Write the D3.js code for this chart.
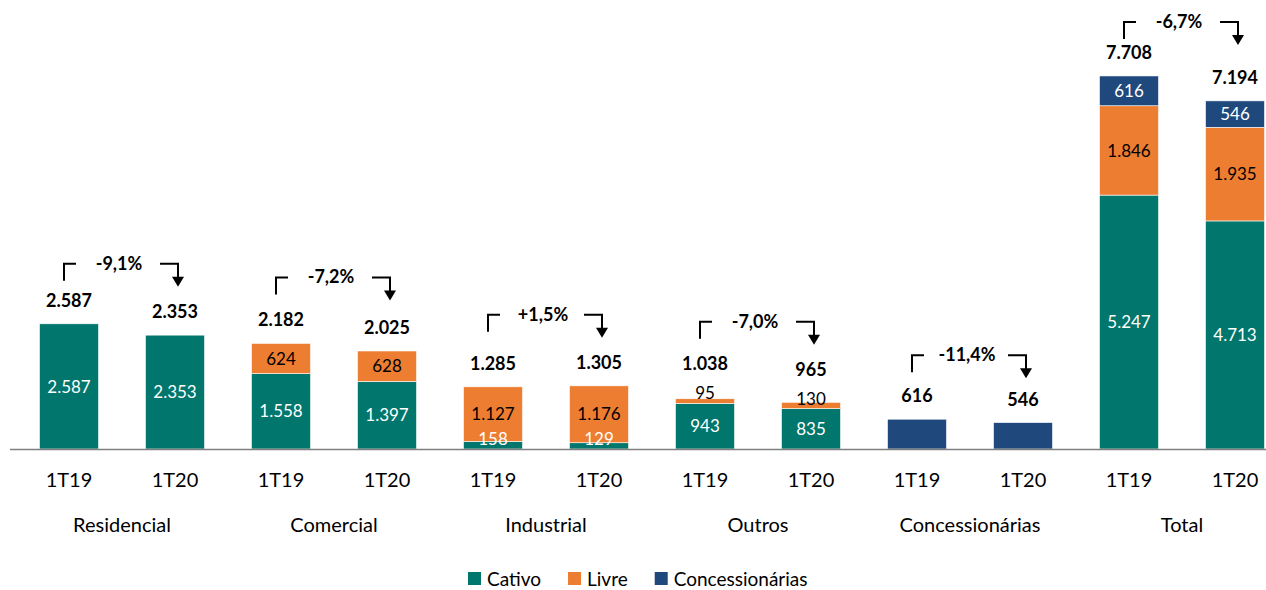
<!DOCTYPE html>
<html>
<head>
<meta charset="utf-8">
<script src="https://cdn.jsdelivr.net/npm/d3@7"></script>
<style>
  body { margin: 0; background: #fff; }
  svg { font-family: Lato, "Noto Sans", sans-serif; }
</style>
</head>
<body>
<svg width="1266" height="590"></svg>
<script>
// data
const categories = ["Residencial", "Comercial", "Industrial", "Outros", "Concessionárias", "Total"];
const periods = ["1T19", "1T20"];
const seriesNames = ["Cativo", "Livre", "Concessionárias"];
const cativo  = [2587, 2353, 1558, 1397, 158, 129, 943, 835, 0, 0, 5247, 4713];
const livre   = [0, 0, 624, 628, 1127, 1176, 95, 130, 0, 0, 1846, 1935];
const concess = [0, 0, 0, 0, 0, 0, 0, 0, 616, 546, 616, 546];
const totals  = [2587, 2353, 2182, 2025, 1285, 1305, 1038, 965, 616, 546, 7708, 7194];
const changes = ["-9,1%", "-7,2%", "+1,5%", "-7,0%", "-11,4%", "-6,7%"];

// layout
const colors = ["#00766c", "#ed7d31", "#1f497d"];
const textColors = ["#fff", "#000", "#fff"];
const bracketRise = [60, 66, 71, 77, 64, 54];
const noSegLabels = ["Concessionárias"];
const baseY = 449;

const svg = d3.select("svg");
const fmt = d3.formatLocale({decimal: ",", thousands: ".", grouping: [3], currency: ["", ""]}).format(",d");

const rows = totals.map((t, i) => ({
  key: i,
  Cativo: cativo[i],
  Livre: livre[i],
  "Concessionárias": concess[i]
}));

const x = d3.scaleBand()
  .domain(d3.range(rows.length))
  .range([16, 1288])
  .paddingInner(0.443)
  .paddingOuter(0.2215);
const bw = x.bandwidth();

const y = d3.scaleLinear().domain([0, 7708]).range([baseY, 76]);

const stacked = d3.stack().keys(seriesNames)(rows);

// bars
const layer = svg.selectAll("g.layer")
  .data(stacked)
  .enter().append("g")
  .attr("class", "layer")
  .attr("fill", (d, i) => colors[i]);

layer.selectAll("rect")
  .data(d => d.filter(s => s[1] - s[0] > 0))
  .enter().append("rect")
  .attr("x", d => x(d.data.key))
  .attr("y", d => y(d[1]))
  .attr("width", bw)
  .attr("height", d => y(d[0]) - y(d[1]))
  .attr("stroke", "#fff")
  .attr("stroke-width", 0.6);

// segment labels
const segTop = totals.map(() => Infinity);
stacked.forEach((s, si) => {
  s.forEach(d => {
    const v = d[1] - d[0];
    const cat = categories[Math.floor(d.data.key / 2)];
    if (v <= 0 || noSegLabels.includes(cat)) return;
    const cy = Math.min((y(d[0]) + y(d[1])) / 2, y(d[0]) - 10);
    segTop[d.data.key] = Math.min(segTop[d.data.key], cy - 9);
    svg.append("text")
      .attr("x", x(d.data.key) + bw / 2)
      .attr("y", cy)
      .attr("dy", "0.36em")
      .attr("text-anchor", "middle")
      .attr("font-size", 17)
      .attr("fill", textColors[si])
      .text(fmt(v));
  });
});

// total labels
svg.selectAll("text.total")
  .data(totals)
  .enter().append("text")
  .attr("class", "total")
  .attr("x", (d, i) => x(i) + bw / 2)
  .attr("y", (d, i) => Math.min(y(d) - 17, segTop[i] - 14))
  .attr("text-anchor", "middle")
  .attr("font-size", 18)
  .attr("font-weight", "bold")
  .attr("fill", "#000")
  .text(d => fmt(d));

// axis line
svg.append("line")
  .attr("x1", 10).attr("x2", 1266)
  .attr("y1", baseY + 0.5).attr("y2", baseY + 0.5)
  .attr("stroke", "#7f7f7f")
  .attr("stroke-width", 1.5);

// period labels
svg.selectAll("text.period")
  .data(rows)
  .enter().append("text")
  .attr("class", "period")
  .attr("x", d => x(d.key) + bw / 2)
  .attr("y", 487)
  .attr("text-anchor", "middle")
  .attr("font-size", 20)
  .attr("fill", "#000")
  .text(d => periods[d.key % 2]);

// category labels
svg.selectAll("text.cat")
  .data(categories)
  .enter().append("text")
  .attr("class", "cat")
  .attr("x", (d, i) => (x(2 * i) + x(2 * i + 1)) / 2 + bw / 2)
  .attr("y", 532)
  .attr("text-anchor", "middle")
  .attr("font-size", 20)
  .attr("fill", "#000")
  .text(d => d);

// change brackets
categories.forEach((c, g) => {
  const c1 = x(2 * g) + bw / 2;
  const c2 = x(2 * g + 1) + bw / 2;
  const top = y(Math.max(totals[2 * g], totals[2 * g + 1])) - bracketRise[g];
  const mid = (c1 + c2) / 2 - 3;
  const t = svg.append("text")
    .attr("x", mid)
    .attr("y", top + 6)
    .attr("text-anchor", "middle")
    .attr("font-size", 18)
    .attr("font-weight", "bold")
    .attr("fill", "#000")
    .text(changes[g]);
  const tw = t.node().getComputedTextLength();
  const lx = c1 - 5, rx = c2 + 3;
  const path = svg.append("g")
    .attr("fill", "none")
    .attr("stroke", "#000")
    .attr("stroke-width", 2);
  path.append("path")
    .attr("d", `M${lx},${top + 17}V${top}H${Math.min(mid - tw / 2 - 12, lx + 12)}`);
  path.append("path")
    .attr("d", `M${Math.max(mid + tw / 2 + 12, rx - 18)},${top}H${rx}V${top + 14}`);
  svg.append("path")
    .attr("d", `M${rx - 6},${top + 13}L${rx + 6},${top + 13}L${rx},${top + 23}Z`)
    .attr("fill", "#000");
});

// legend
const legend = svg.append("g").attr("transform", "translate(468,579)");
let lxPos = 0;
seriesNames.forEach((s, i) => {
  const gItem = legend.append("g").attr("transform", `translate(${lxPos},0)`);
  gItem.append("rect")
    .attr("x", 0).attr("y", -7)
    .attr("width", 13).attr("height", 13)
    .attr("fill", colors[i]);
  const lt = gItem.append("text")
    .attr("x", 19).attr("y", 0)
    .attr("dy", "0.35em")
    .attr("font-size", 19)
    .attr("fill", "#000")
    .text(s);
  lxPos += 19 + lt.node().getComputedTextLength() + 27;
});
</script>
</body>
</html>
